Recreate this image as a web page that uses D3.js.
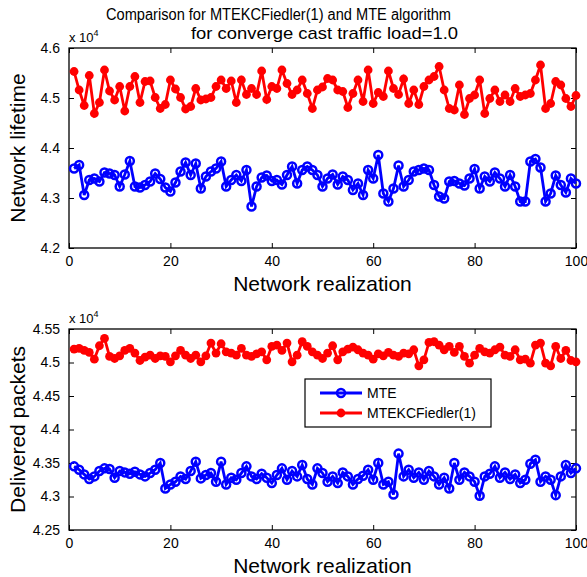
<!DOCTYPE html>
<html><head><meta charset="utf-8">
<script src="https://cdn.jsdelivr.net/npm/d3@7"></script>
<style>body{margin:0;background:#fff}svg{display:block}text{font-family:"Liberation Sans",Arial,Helvetica,sans-serif;fill:#000}</style>
</head><body><svg id="c" width="587" height="577"></svg>
<script>
const titleLines = ["Comparison for MTEKCFiedler(1) and MTE algorithm","for converge cast traffic load=1.0"];
const xLabel = "Network realization";
const yLabelTop = "Network lifetime";
const yLabelBottom = "Delivered packets";
const seriesNames = ["MTE","MTEKCFiedler(1)"];
const xTicks = [0,20,40,60,80,100];
const yTicksTop = [4.2,4.3,4.4,4.5,4.6];
const yTicksBottom = [4.25,4.3,4.35,4.4,4.45,4.5,4.55];
const realization = d3.range(1,101);
// values in units of 10^4
const lifetimeMTE = [4.359,4.366,4.306,4.336,4.339,4.333,4.351,4.349,4.346,4.323,4.347,4.374,4.323,4.321,4.326,4.333,4.349,4.338,4.321,4.313,4.331,4.353,4.371,4.346,
4.369,4.319,4.343,4.353,4.359,4.373,4.323,4.336,4.346,4.334,4.356,4.283,4.323,4.341,4.345,4.334,4.336,4.327,4.346,4.363,4.329,4.356,4.363,4.356,4.346,4.323,
4.339,4.347,4.327,4.343,4.336,4.316,4.329,4.306,4.356,4.339,4.386,4.309,4.293,4.319,4.365,4.323,4.336,4.353,4.356,4.359,4.356,4.326,4.303,4.299,4.333,4.334,
4.329,4.325,4.339,4.358,4.319,4.343,4.333,4.351,4.339,4.323,4.346,4.323,4.293,4.293,4.373,4.378,4.361,4.293,4.309,4.345,4.326,4.311,4.339,4.329];
const lifetimeKC = [4.553,4.516,4.485,4.545,4.469,4.491,4.556,4.514,4.496,4.523,4.474,4.523,4.543,4.491,4.533,4.534,4.501,4.479,4.487,4.536,4.518,4.501,4.478,4.483,
4.519,4.496,4.498,4.501,4.523,4.536,4.519,4.534,4.491,4.536,4.507,4.519,4.507,4.554,4.497,4.523,4.519,4.556,4.529,4.507,4.516,4.536,4.509,4.479,4.516,4.522,
4.539,4.536,4.516,4.513,4.481,4.509,4.536,4.493,4.556,4.489,4.511,4.503,4.554,4.519,4.507,4.538,4.489,4.516,4.487,4.523,4.536,4.543,4.563,4.516,4.479,4.476,
4.526,4.467,4.499,4.506,4.536,4.469,4.499,4.516,4.493,4.506,4.493,4.519,4.503,4.506,4.509,4.536,4.566,4.479,4.489,4.533,4.526,4.499,4.483,4.505];
const packetsMTE = [4.345,4.340,4.333,4.326,4.330,4.338,4.342,4.341,4.328,4.338,4.336,4.334,4.337,4.333,4.330,4.335,4.340,4.350,4.312,4.318,4.322,4.330,4.326,4.338,
4.352,4.327,4.332,4.335,4.322,4.352,4.318,4.328,4.325,4.335,4.345,4.330,4.326,4.334,4.328,4.320,4.332,4.342,4.325,4.338,4.330,4.347,4.326,4.318,4.342,4.335,
4.322,4.330,4.320,4.336,4.330,4.318,4.326,4.331,4.340,4.325,4.350,4.318,4.322,4.303,4.364,4.330,4.340,4.328,4.336,4.325,4.338,4.330,4.318,4.328,4.312,4.350,
4.325,4.336,4.330,4.322,4.301,4.330,4.334,4.345,4.328,4.336,4.326,4.333,4.320,4.325,4.349,4.355,4.322,4.330,4.325,4.302,4.330,4.347,4.335,4.342];
const packetsKC = [4.520,4.521,4.518,4.515,4.505,4.525,4.536,4.509,4.506,4.510,4.518,4.521,4.514,4.503,4.508,4.511,4.506,4.510,4.509,4.501,4.510,4.518,4.511,4.506,
4.511,4.501,4.510,4.529,4.514,4.528,4.516,4.514,4.511,4.521,4.511,4.509,4.513,4.516,4.504,4.524,4.526,4.518,4.529,4.501,4.511,4.531,4.524,4.516,4.511,4.506,
4.514,4.525,4.504,4.516,4.520,4.523,4.519,4.514,4.511,4.505,4.513,4.510,4.515,4.511,4.509,4.514,4.513,4.519,4.495,4.504,4.530,4.531,4.526,4.519,4.524,4.515,
4.524,4.509,4.499,4.511,4.521,4.516,4.514,4.519,4.523,4.511,4.509,4.519,4.504,4.505,4.499,4.526,4.529,4.499,4.495,4.524,4.506,4.518,4.503,4.501];

const svg = d3.select("#c");
const L = 69, R = 576;
const blue = "#0000ff", red = "#ff0000";
const x = d3.scaleLinear().domain([0,100]).range([L,R]);

function panel(top, bottom, yDomain, yTicks, yFmt, mte, kc, ylab){
  const y = d3.scaleLinear().domain(yDomain).range([bottom, top]);
  const g = svg.append("g");
  const tk = 5;
  g.append("g").attr("transform",`translate(0,${bottom})`)
    .call(d3.axisBottom(x).tickValues(xTicks).tickSizeInner(-tk).tickSizeOuter(0).tickPadding(8).tickFormat(d3.format("d")))
    .call(a=>{a.select(".domain").remove();a.selectAll("text").attr("font-size",14).attr("font-family","Liberation Sans, Arial")});
  g.append("g").attr("transform",`translate(0,${top})`)
    .call(d3.axisTop(x).tickValues(xTicks).tickSizeInner(-tk).tickSizeOuter(0).tickFormat(""))
    .call(a=>a.select(".domain").remove());
  g.append("g").attr("transform",`translate(${L},0)`)
    .call(d3.axisLeft(y).tickValues(yTicks).tickSizeInner(-tk).tickSizeOuter(0).tickPadding(9).tickFormat(yFmt))
    .call(a=>{a.select(".domain").remove();a.selectAll("text").attr("font-size",14).attr("font-family","Liberation Sans, Arial")});
  g.append("g").attr("transform",`translate(${R},0)`)
    .call(d3.axisRight(y).tickValues(yTicks).tickSizeInner(-tk).tickSizeOuter(0).tickFormat(""))
    .call(a=>a.select(".domain").remove());
  g.selectAll(".tick line").attr("stroke","#000");
  g.append("rect").attr("x",L).attr("y",top).attr("width",R-L).attr("height",bottom-top)
    .attr("fill","none").attr("stroke","#000").attr("stroke-width",1.3);
  const line = d3.line().x((d,i)=>x(realization[i])).y(d=>y(d));
  g.append("path").datum(mte).attr("d",line).attr("fill","none").attr("stroke",blue).attr("stroke-width",2.8);
  g.selectAll(".mo").data(mte).join("circle").attr("cx",(d,i)=>x(realization[i])).attr("cy",d=>y(d))
    .attr("r",4.0).attr("fill","none").attr("stroke",blue).attr("stroke-width",2.5);
  g.append("path").datum(kc).attr("d",line).attr("fill","none").attr("stroke",red).attr("stroke-width",2.8);
  g.selectAll(".ko").data(kc).join("circle").attr("cx",(d,i)=>x(realization[i])).attr("cy",d=>y(d))
    .attr("r",4.4).attr("fill",red);
  const ex = g.append("text").attr("x",L).attr("y",top-6).attr("font-size",13);
  ex.append("tspan").text("x 10");
  ex.append("tspan").attr("dy",-6).attr("font-size",9).text("4");
  g.append("text").attr("x",(L+R)/2).attr("y",bottom+43).attr("text-anchor","middle").attr("font-size",21).text(xLabel);
  g.append("text").attr("transform",`translate(25,${(top+bottom)/2}) rotate(-90)`).attr("text-anchor","middle").attr("font-size",21).text(ylab);
  return y;
}

panel(48, 248, [4.2,4.6], yTicksTop, d3.format(".1f"), lifetimeMTE, lifetimeKC, yLabelTop);
panel(329, 530, [4.25,4.55], yTicksBottom, d=>String(+d.toFixed(2)), packetsMTE, packetsKC, yLabelBottom);

// title (two lines as in the reference: first line sits left of centre)
const titleSpec = [[106,345,20,16],[191,267,39,17]];
titleLines.forEach((t,i)=>svg.append("text").attr("x",titleSpec[i][0]).attr("y",titleSpec[i][2])
  .attr("font-size",titleSpec[i][3]).attr("textLength",titleSpec[i][1]).attr("lengthAdjust","spacingAndGlyphs").text(t));

// legend
const lg = svg.append("g");
lg.append("rect").attr("x",305).attr("y",379).attr("width",186).attr("height",48).attr("fill","#fff").attr("stroke","#000").attr("stroke-width",1.2);
[[blue,seriesNames[0],393,true],[red,seriesNames[1],413,false]].forEach(([c,n,yy,ring])=>{
  lg.append("line").attr("x1",320).attr("x2",362).attr("y1",yy).attr("y2",yy).attr("stroke",c).attr("stroke-width",2.8);
  if(ring) lg.append("circle").attr("cx",341).attr("cy",yy).attr("r",4.0).attr("fill","none").attr("stroke",c).attr("stroke-width",2.5);
  else lg.append("circle").attr("cx",341).attr("cy",yy).attr("r",4.4).attr("fill",c);
  lg.append("text").attr("x",367).attr("y",yy+5).attr("font-size",14).text(n);
});
</script></body></html>
